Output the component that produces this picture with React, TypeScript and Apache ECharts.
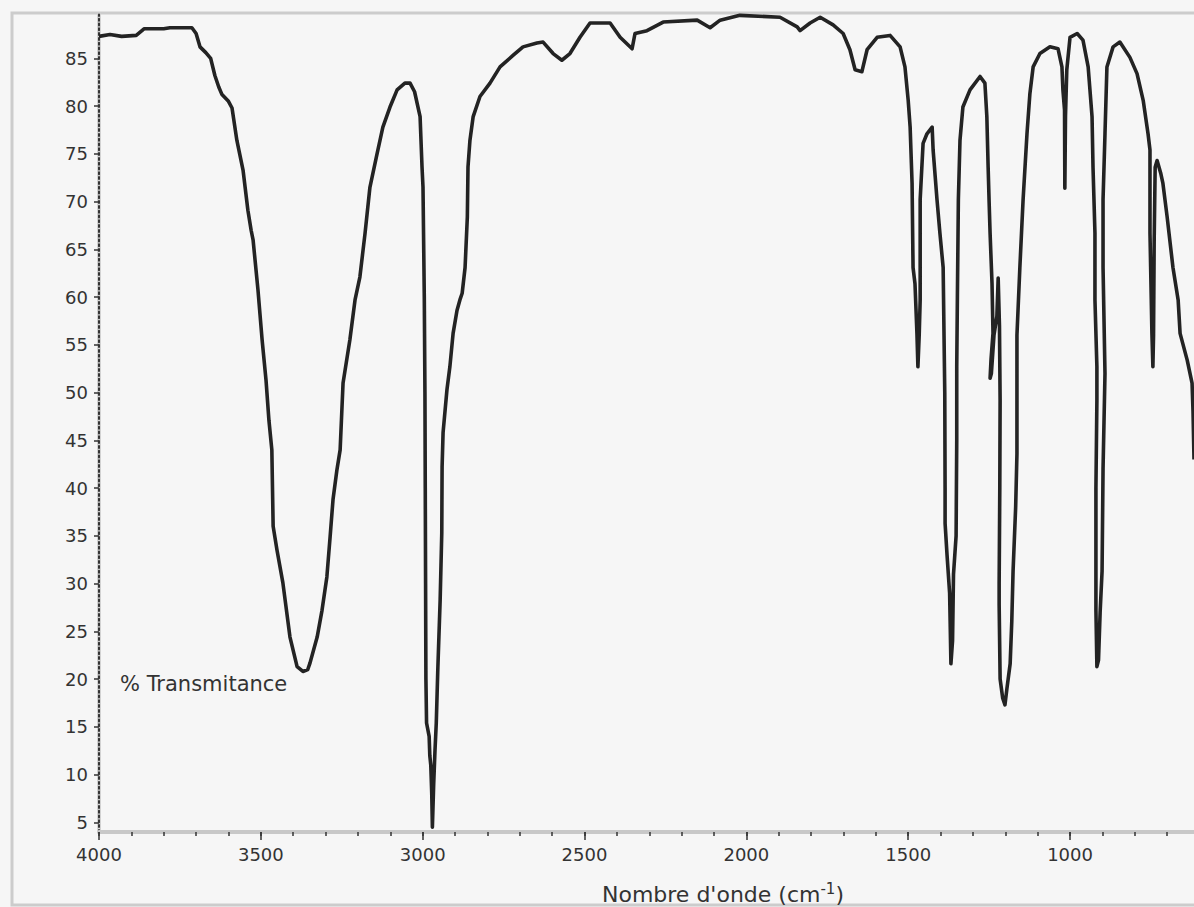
import React, { useEffect, useRef } from "react";
import * as echarts from "echarts";

// Wavenumber (cm-1) along the trace, and % transmittance
const WAVENUMBER = [
  4000, 3966, 3930, 3885, 3860, 3830, 3800, 3781, 3713, 3700, 3688, 3670, 3655, 3642, 3630, 3620,
  3600, 3589, 3574, 3555, 3540, 3530, 3524, 3509, 3496, 3484, 3475, 3466, 3462, 3450, 3432, 3410,
  3388, 3370, 3355, 3348, 3326, 3311, 3296, 3286, 3277, 3265, 3255, 3246, 3225, 3209, 3194, 3178,
  3163, 3141, 3123, 3101, 3079, 3055, 3039, 3025, 3008, 3002, 2999, 2995, 2993, 2992, 2991, 2990,
  2988, 2980, 2978, 2975, 2972, 2970, 2966, 2962, 2958, 2953, 2946, 2941, 2940, 2937, 2925, 2916,
  2906, 2894, 2885, 2878, 2869, 2862, 2860, 2854, 2844, 2823, 2792, 2761, 2721, 2690, 2647, 2628,
  2597, 2570, 2545, 2514, 2483, 2421, 2390, 2353, 2344, 2307, 2257, 2152, 2112, 2081, 2020, 1896,
  1843, 1834, 1803, 1772, 1732, 1701, 1680, 1664, 1643, 1627, 1596, 1556, 1525, 1510, 1500, 1494,
  1488, 1485, 1479, 1473, 1470, 1466, 1463, 1463, 1454, 1442, 1426, 1423, 1411, 1402, 1392, 1387,
  1386, 1386, 1380, 1372, 1368, 1363, 1360, 1352, 1350, 1350, 1348, 1345, 1340, 1331, 1309, 1278,
  1263, 1257, 1253, 1250, 1247, 1241, 1238, 1244, 1247, 1243, 1235, 1226, 1222, 1218, 1216, 1217,
  1219, 1219, 1216, 1208, 1201, 1195, 1185, 1180, 1176, 1168, 1164, 1164, 1164, 1155, 1145, 1133,
  1124, 1114, 1093, 1062, 1037, 1025, 1022, 1017, 1016, 1014, 1010, 1000, 978, 960, 944, 932,
  929, 923, 923, 917, 917, 920, 920, 917, 912, 907, 901, 898, 892, 898, 898, 892,
  886, 867, 846, 815, 793, 774, 759, 753, 753, 753, 747, 744, 742, 740, 737, 731,
  720, 713, 700, 682, 666, 660, 638, 623, 620, 617,
];
const TRANSMITTANCE = [
  87.3, 87.5, 87.3, 87.4, 88.1, 88.1, 88.1, 88.2, 88.2, 87.6, 86.2, 85.6, 85.0, 83.2, 82.0, 81.2,
  80.5, 79.8, 76.4, 73.3, 69.1, 67.0, 66.0, 60.8, 55.5, 51.3, 47.1, 44.0, 36.0, 33.5, 30.1, 24.4,
  21.3, 20.8, 21.0, 21.7, 24.4, 27.2, 30.7, 34.9, 38.8, 41.9, 44.0, 51.0, 55.5, 59.7, 62.1, 66.7,
  71.5, 75.0, 77.8, 79.9, 81.7, 82.4, 82.4, 81.5, 78.9, 73.6, 71.5, 60.0, 50.0, 40.0, 30.0, 20.0,
  15.4, 14.0, 12.0, 11.0, 8.0, 4.5, 9.0, 12.5, 15.4, 21.3, 28.3, 35.3, 42.2, 45.8, 50.3, 52.7,
  56.2, 58.6, 59.7, 60.4, 63.1, 68.4, 73.6, 76.4, 78.9, 81.0, 82.4, 84.1, 85.3, 86.2, 86.6, 86.7,
  85.5, 84.8, 85.5, 87.2, 88.7, 88.7, 87.2, 86.0, 87.6, 87.9, 88.8, 89.0, 88.2, 89.0, 89.5, 89.3,
  88.3, 87.9, 88.7, 89.3, 88.5, 87.6, 85.9, 83.8, 83.6, 85.9, 87.2, 87.4, 86.2, 84.1, 80.6, 77.8,
  71.9, 63.1, 61.4, 56.2, 52.7, 56.0, 59.7, 70.2, 76.1, 77.1, 77.8, 75.4, 70.2, 66.7, 63.1, 50.0,
  40.0, 36.3, 33.0, 29.0, 21.6, 24.0, 31.0, 35.0, 45.0, 52.7, 60.0, 70.2, 76.4, 79.9, 81.7, 83.1,
  82.4, 78.9, 73.6, 70.0, 66.7, 61.4, 56.2, 53.5, 51.5, 52.0, 56.0, 58.0, 62.0, 57.0, 49.2, 40.0,
  30.0, 27.8, 20.0, 18.0, 17.3, 19.0, 21.6, 26.0, 31.3, 38.0, 43.6, 52.0, 56.0, 63.1, 70.2, 77.1,
  81.3, 84.1, 85.5, 86.2, 86.0, 84.1, 81.7, 79.6, 71.4, 79.0, 83.8, 87.2, 87.6, 86.9, 84.1, 78.9,
  73.6, 66.7, 59.7, 52.7, 49.2, 40.0, 27.2, 21.3, 22.0, 27.0, 31.3, 42.0, 52.0, 63.1, 70.2, 77.1,
  84.1, 86.2, 86.7, 85.1, 83.4, 80.6, 77.1, 75.4, 71.9, 66.7, 56.2, 52.7, 56.0, 66.0, 73.6, 74.3,
  73.0, 71.9, 68.4, 63.1, 59.7, 56.2, 53.4, 51.0, 48.0, 43.0,
];

const X_LABEL_TICKS = [4000, 3500, 3000, 2500, 2000, 1500, 1000];
const X_MINOR_TICKS = [
  4000, 3900, 3800, 3700, 3600, 3500, 3400, 3300, 3200, 3100, 3000, 2900, 2800, 2700, 2600, 2500,
  2400, 2300, 2200, 2100, 2000, 1900, 1800, 1700, 1600, 1500, 1400, 1300, 1200, 1100, 1000, 900,
  800, 700,
];
const Y_LABEL_TICKS = [5, 10, 15, 20, 25, 30, 35, 40, 45, 50, 55, 60, 65, 70, 75, 80, 85];

const X_MIN = 617;
const X_MAX = 4000;
const Y_MIN = 4;
const Y_MAX = 89.6;

const FONT = "DejaVu Sans";
const TEXT = "#333333";

export default function App() {
  const ref = useRef<HTMLDivElement>(null);

  useEffect(() => {
    if (!ref.current) return;
    const chart = echarts.init(ref.current, undefined, { renderer: "svg" });
    const data = WAVENUMBER.map((w, i) => [w, TRANSMITTANCE[i]]);

    chart.setOption({
      animation: false,
      backgroundColor: "#f6f6f6",
      grid: { left: 99, right: 0, top: 14.4, bottom: 75.1, containLabel: false },
      graphic: [
        {
          type: "rect",
          shape: { x: 12, y: 13, width: 1200, height: 892 },
          style: { fill: "none", stroke: "#cccccc", lineWidth: 3 },
          z: -1,
          silent: true,
        },
        {
          type: "text",
          x: 120,
          y: 684,
          style: {
            text: "% Transmitance",
            fontFamily: FONT,
            fontSize: 21,
            fill: TEXT,
            verticalAlign: "middle",
          },
        },
        {
          type: "text",
          x: 602,
          y: 893,
          style: {
            text: "{a|Nombre d'onde (cm}{s|-1}{a|)}",
            verticalAlign: "middle",
            rich: {
              a: { fontFamily: FONT, fontSize: 22, fill: TEXT, color: TEXT, lineHeight: 24, verticalAlign: "bottom" },
              s: { fontFamily: FONT, fontSize: 15, fill: TEXT, color: TEXT, lineHeight: 24, verticalAlign: "top" },
            },
          },
        },
      ],
      xAxis: [
        {
          type: "value",
          inverse: true,
          min: X_MIN,
          max: X_MAX,
          position: "bottom",
          axisLine: { show: true, onZero: false, lineStyle: { color: "#c8c8c8", width: 4 } },
          axisTick: {
            show: true,
            customValues: X_LABEL_TICKS,
            length: 8,
            lineStyle: { color: "#333", width: 1.5 },
          },
          axisLabel: {
            show: true,
            customValues: X_LABEL_TICKS,
            margin: 14,
            fontFamily: FONT,
            fontSize: 18,
            color: TEXT,
            formatter: (v: number) => String(v),
          },
          splitLine: { show: false },
          z: 3,
        },
        {
          type: "value",
          inverse: true,
          min: X_MIN,
          max: X_MAX,
          position: "bottom",
          axisLine: { show: false, onZero: false },
          axisTick: {
            show: true,
            customValues: X_MINOR_TICKS,
            length: 4,
            lineStyle: { color: "#333", width: 1.5 },
          },
          axisLabel: { show: false },
          splitLine: { show: false },
          z: 4,
        },
      ],
      yAxis: [
        {
          type: "value",
          min: Y_MIN,
          max: Y_MAX,
          position: "left",
          axisLine: { show: true, onZero: false, lineStyle: { color: "#d2d2d2", width: 4 } },
          axisTick: { show: false },
          axisLabel: { show: false },
          splitLine: { show: false },
          z: 2,
        },
        {
          type: "value",
          min: Y_MIN,
          max: Y_MAX,
          position: "left",
          axisLine: {
            show: true,
            onZero: false,
            lineStyle: { color: "#333", width: 2, type: [2, 2.8] },
          },
          axisTick: {
            show: true,
            customValues: Y_LABEL_TICKS,
            length: 5,
            lineStyle: { color: "#333", width: 1.5 },
          },
          axisLabel: {
            show: true,
            customValues: Y_LABEL_TICKS,
            margin: 11,
            fontFamily: FONT,
            fontSize: 18,
            color: TEXT,
            formatter: (v: number) => String(v),
          },
          splitLine: { show: false },
          z: 3,
        },
      ],
      series: [
        {
          type: "line",
          xAxisIndex: 0,
          yAxisIndex: 0,
          data,
          showSymbol: false,
          symbol: "none",
          lineStyle: { color: "#232323", width: 3.6, join: "round" },
          z: 5,
        },
      ],
    });

    return () => chart.dispose();
  }, []);

  return (
    <div
      ref={ref}
      style={{ position: "absolute", left: 0, top: 0, width: 1194, height: 907 }}
    />
  );
}
